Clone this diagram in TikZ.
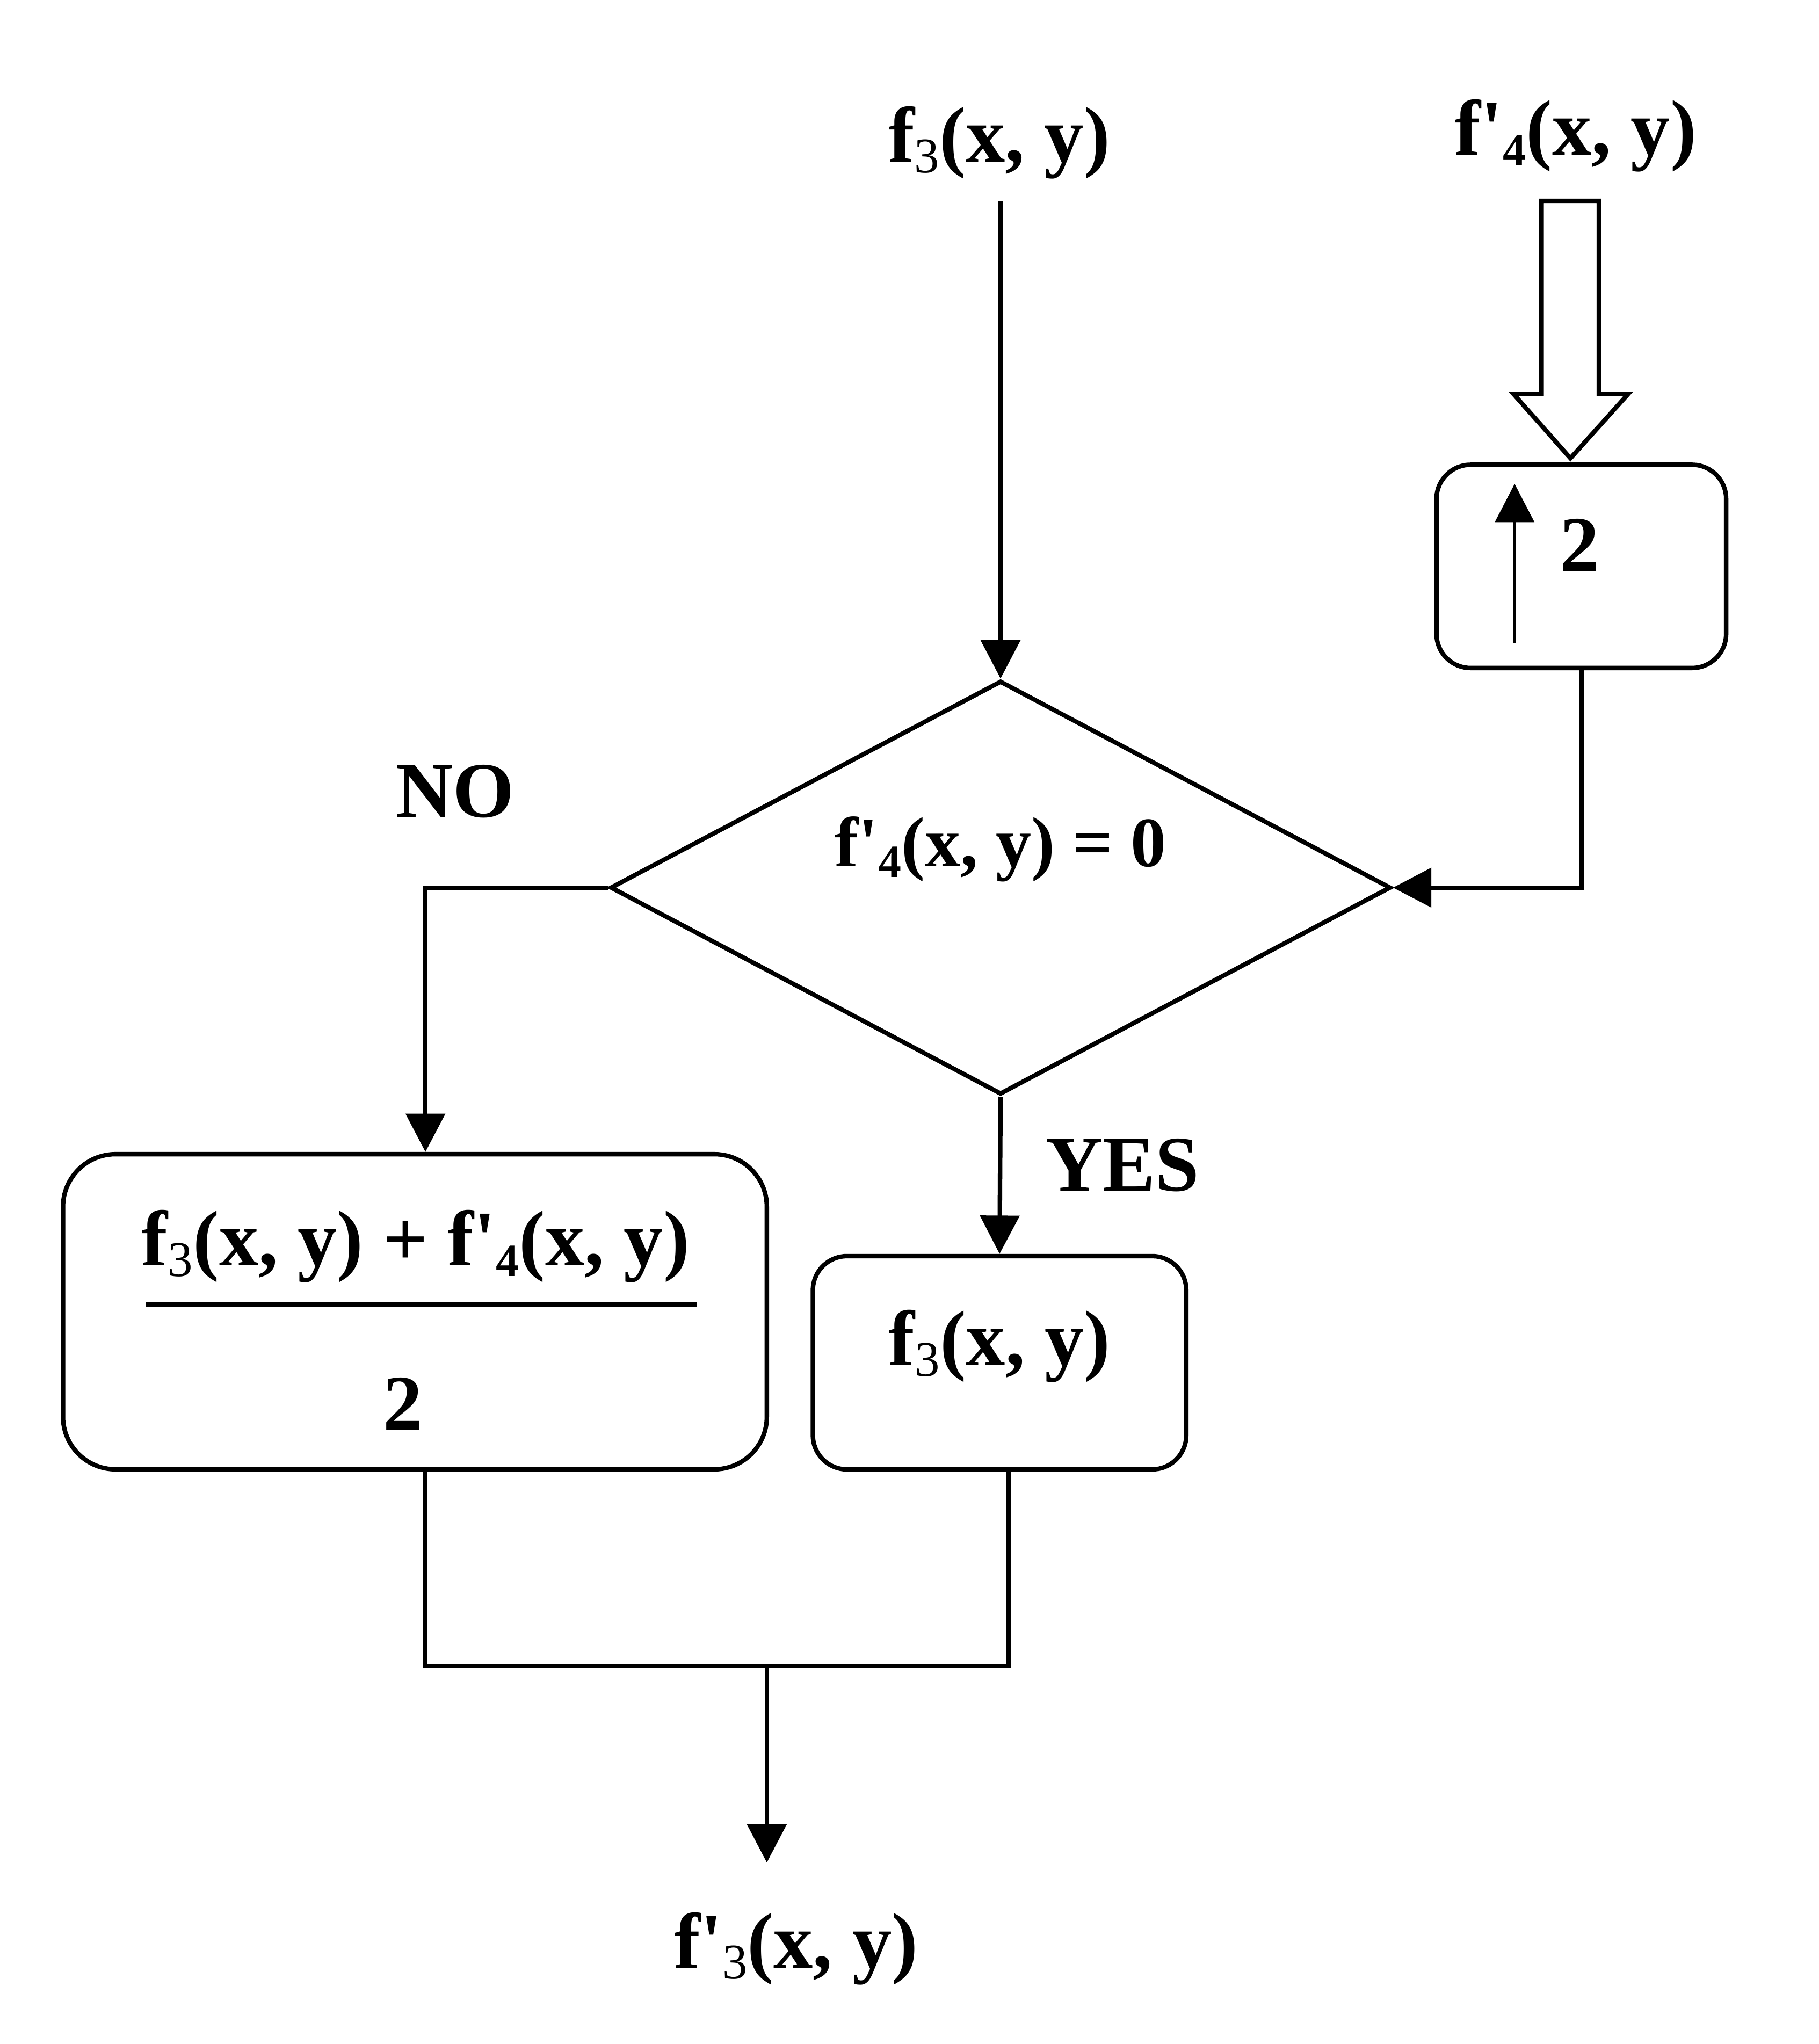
\documentclass[tikz,border=0pt]{standalone}
\usepackage{fontspec}
\setmainfont{Liberation Serif}
\usetikzlibrary{arrows.meta,shapes.geometric,calc}
\newcommand{\sbr}[1]{\raisebox{-2pt}{\fontsize{9.5pt}{9.5pt}\selectfont\mdseries #1}}
\newcommand{\sbs}[1]{\raisebox{-2pt}{\fontsize{8.8pt}{8.8pt}\selectfont #1}}
\newcommand{\prm}{\textquotesingle}
\begin{document}
\begin{tikzpicture}[x=0.25pt,y=-0.25pt,
  line width=0.85pt,
  txt/.style={font=\fontsize{15pt}{18pt}\selectfont\bfseries, inner sep=0pt},
  dtxt/.style={font=\fontsize{13.5pt}{16pt}\selectfont\bfseries, inner sep=0pt},
  arr/.style={-{Triangle[length=7.3pt,width=7.4pt]}},
  rbx/.style={draw, rounded corners=6.5pt, inner sep=0pt}]
\useasboundingbox (0,0) rectangle (1385,1556.7);

% top inputs
\node[txt, anchor=base] (t3) at (761,123.5) {f\sbr{3}(x, y)};
\node[txt, anchor=base] (t4) at (1200,118) {f\prm\sbs{4}(x, y)};
\coordinate (c1) at (762,153);

% hollow arrow
\draw[line join=miter] (1174,153) -- (1217.6,153) -- (1217.6,300) -- (1240,300) -- (1196,349) -- (1152.6,300) -- (1174,300) -- cycle;

% upsampling box
\node[rbx, minimum width=55.15pt, minimum height=38.7pt] (r2) at (1204.3,431.35) {};
\node[txt, anchor=base] (two) at (1203,435) {2};
\coordinate (ia1) at (1153.5,490);
\coordinate (ia2) at (1153.5,368.5);
\draw[arr, line width=0.6pt] (ia1) -- (ia2);

% decision
\node[draw, diamond, minimum width=148.6pt, minimum height=78.75pt, inner sep=0pt] (dia) at (762,676) {};
\node[dtxt, anchor=base] (dtx) at (762,660) {f\prm\sbs{4}(x, y) = 0};

% left box
\node[draw, rounded corners=10pt, inner sep=0pt, minimum width=134pt, minimum height=60pt] (lb) at (316,999) {};
\node[txt, anchor=base] (num) at (316.6,964) {f\sbr{3}(x, y) + f\prm\sbs{4}(x, y)};
\draw[line width=0.95pt] (111,993.5) -- (531,993.5);
\node[txt, anchor=base] (den) at (306.8,1089) {2};

% right box
\node[rbx, minimum width=71.1pt, minimum height=40.6pt] (rb) at (761.25,1037.85) {};
\node[txt, anchor=base] (rbt) at (761.3,1040) {f\sbr{3}(x, y)};

% labels
\node[txt, anchor=base west] (yes) at (795,906.8) {YES};
\node[txt, anchor=base west] (no) at (300,622.5) {NO};
\node[txt, anchor=base] (out) at (606.4,1498.8) {f\prm\sbr{3}(x, y)};

\coordinate (j) at (584,1268.7);
\coordinate (tip) at (584,1418.5);

% connectors
\draw[arr] (c1) -- (dia.north);
\draw[arr] (r2.south) |- (dia.east);
\draw[arr] (dia.west) -| ([xshift=2pt]lb.north);
\draw[arr] (dia.south) -- (rb.north);
\draw ([xshift=2pt]lb.south) |- (j) -| ([xshift=1.7pt]rb.south);
\draw[arr] (j) -- (tip);
\end{tikzpicture}
\end{document}
